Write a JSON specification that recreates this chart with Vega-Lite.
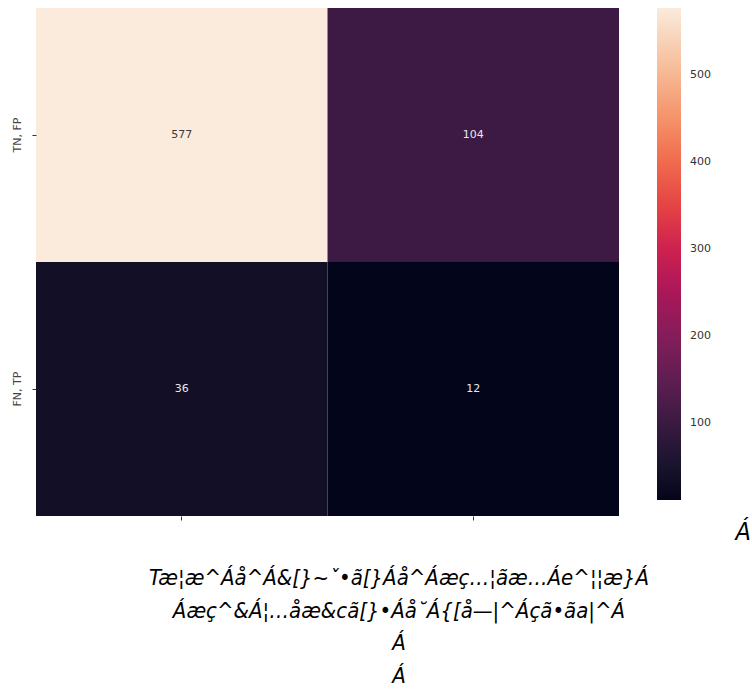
{
  "$schema": "https://vega.github.io/schema/vega-lite/v6.json",
  "width": 583,
  "height": 508,
  "padding": {"left": 11, "top": 8, "right": 2, "bottom": 3},
  "background": "white",
  "config": {"view": {"stroke": null}},
  "title": {
    "text": ["Tæ¦æ^Áå^Á&[}~ˇ•ã[}Áå^Áæç…¦ãæ…Áe^¦¦æ}Á", "Áæç^&Á¦…åæ&cã[}•Áå˘Á{[å—|^Áçã•ãa|^Á", "Á", "Á"],
    "orient": "bottom",
    "frame": "bounds",
    "anchor": "middle",
    "font": "'Liberation Sans Narrow', 'DejaVu Sans Condensed', 'Liberation Sans', sans-serif",
    "fontStyle": "italic",
    "fontWeight": "normal",
    "fontSize": 22,
    "lineHeight": 32.5,
    "offset": 23,
    "dx": 18,
    "color": "black"
  },
  "data": {
    "values": [
      {"actual": "TN, FP", "pred": "0", "count": 577},
      {"actual": "TN, FP", "pred": "1", "count": 104},
      {"actual": "FN, TP", "pred": "0", "count": 36},
      {"actual": "FN, TP", "pred": "1", "count": 12}
    ]
  },
  "encoding": {
    "x": {
      "field": "pred", "type": "nominal", "sort": ["0", "1"],
      "scale": {"paddingInner": 0, "paddingOuter": 0},
      "axis": {"labels": false, "title": null, "domain": false, "ticks": true, "tickSize": 4, "tickColor": "#333", "grid": false}
    },
    "y": {
      "field": "actual", "type": "nominal", "sort": ["TN, FP", "FN, TP"],
      "scale": {"paddingInner": 0, "paddingOuter": 0},
      "axis": {"title": null, "domain": false, "labelAngle": -90, "tickSize": 4, "tickColor": "#333", "labelFont": "DejaVu Sans", "labelFontSize": 11, "labelColor": "#444", "labelPadding": 10, "grid": false}
    }
  },
  "layer": [
    {
      "mark": {"type": "rect"},
      "encoding": {
        "color": {
          "field": "count", "type": "quantitative",
          "scale": {
            "type": "linear",
            "domain": [12, 92.714, 173.429, 254.143, 334.857, 415.571, 496.286, 577],
            "range": ["#03051a", "#35193e", "#701f57", "#ad1759", "#e13342", "#f37651", "#f6b48f", "#faebdd"]
          },
          "legend": {
            "title": "Á",
            "titleOrient": "bottom",
            "titleAnchor": "end",
            "titlePadding": 8,
            "titleFont": "'Liberation Sans Narrow', 'DejaVu Sans Condensed', 'Liberation Sans', sans-serif",
            "titleFontStyle": "italic",
            "titleFontWeight": "normal",
            "titleFontSize": 25,
            "titleColor": "black",
            "gradientLength": 492,
            "gradientThickness": 24,
            "gradientStrokeWidth": 0,
            "values": [100, 200, 300, 400, 500],
            "offset": 38,
            "labelFont": "DejaVu Sans",
            "labelFontSize": 11,
            "labelColor": "#333",
            "labelOffset": 9,
            "direction": "vertical",
            "encode": {"title": {"update": {"dx": {"value": 40}, "dy": {"value": 12}}}}
          }
        }
      }
    },
    {
      "mark": {"type": "text", "font": "DejaVu Sans", "fontSize": 11},
      "encoding": {
        "text": {"field": "count", "type": "quantitative"},
        "color": {"condition": {"test": "datum.count > 300", "value": "#3a3a3a"}, "value": "#e8e8e8"}
      }
    }
  ]
}
